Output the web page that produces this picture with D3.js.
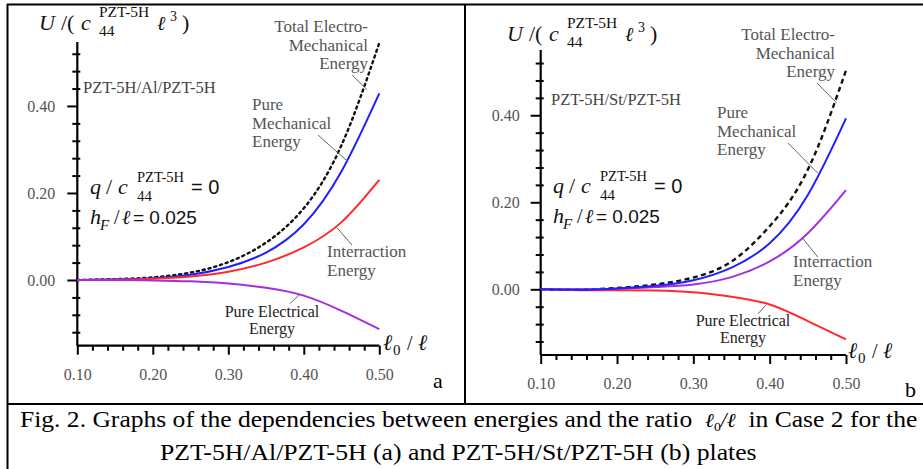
<!DOCTYPE html>
<html>
<head>
<meta charset="utf-8">
<script src="https://cdn.jsdelivr.net/npm/d3@7/dist/d3.min.js"></script>
<style>
  body { margin: 0; background: #fff; }
  svg { display: block; }
</style>
</head>
<body>
<div id="chart"></div>
<script>
const width = 923;
const height = 469;

// l0/l ratio where the curves were read
const ratioValues = [0.10, 0.15, 0.20, 0.25, 0.30, 0.35, 0.40, 0.45, 0.50];
const xTickMajor = [0.10, 0.20, 0.30, 0.40, 0.50];
const xTickMinor = [0.12, 0.14, 0.16, 0.18, 0.22, 0.24, 0.26, 0.28, 0.32, 0.34, 0.36, 0.38, 0.42, 0.44, 0.46, 0.48];
const yTickMajor = [0.00, 0.20, 0.40];
const yTickMinor = [-0.12, -0.08, -0.04, 0.04, 0.08, 0.12, 0.16, 0.24, 0.28, 0.32, 0.36, 0.44, 0.48, 0.52];

// (a) PZT-5H/Al/PZT-5H
const totalA = [0, 0.002, 0.006, 0.017, 0.041, 0.086, 0.165, 0.310, 0.545];
const mechA = [0, 0.001, 0.004, 0.012, 0.030, 0.063, 0.128, 0.250, 0.429];
const interA = [0, 0.001, 0.003, 0.008, 0.019, 0.040, 0.075, 0.133, 0.230];
const elecA = [0, 0, -0.001, -0.003, -0.008, -0.018, -0.036, -0.071, -0.113];

// (b) PZT-5H/St/PZT-5H
const totalB = [0, -0.001, 0.003, 0.011, 0.027, 0.064, 0.145, 0.275, 0.503];
const mechB = [0, -0.001, 0.002, 0.008, 0.021, 0.050, 0.106, 0.217, 0.393];
const interB = [0, 0, 0.001, 0.005, 0.011, 0.028, 0.064, 0.129, 0.228];
const elecB = [0, -0.002, -0.002, -0.003, -0.007, -0.017, -0.035, -0.073, -0.115];

const BLUE = '#1f1fff';
const RED = '#ff2a2a';
const PURPLE = '#a22ee0';
const GREY = '#555';
const SERIF = '"Liberation Serif", "Times New Roman", serif';
const SANS = '"Liberation Sans", Arial, sans-serif';

const svg = d3.select('#chart').append('svg')
    .attr('width', width)
    .attr('height', height);

svg.append('rect').attr('width', width).attr('height', height).attr('fill', '#fff');

// frame of the figure table
const frame = svg.append('g').attr('stroke', '#000').attr('stroke-width', 2);
frame.append('line').attr('x1', 7).attr('x2', width).attr('y1', 4.5).attr('y2', 4.5);
frame.append('line').attr('x1', 7.5).attr('x2', 7.5).attr('y1', 4).attr('y2', height);
frame.append('line').attr('x1', 465).attr('x2', 465).attr('y1', 4).attr('y2', 404);
frame.append('line').attr('x1', 7).attr('x2', width).attr('y1', 404).attr('y2', 404);

drawPanel({
    xRange: [77.3, 379.3],
    yDomain: [-0.151, 0.547],
    yRange: [345.7, 42],
    series: [
        { values: totalA, color: '#111', dash: '2.2,3.8', cap: 'round' },
        { values: mechA, color: BLUE },
        { values: interA, color: RED },
        { values: elecA, color: PURPLE }
    ],
    material: 'PZT-5H/Al/PZT-5H',
    materialPos: [83, 93],
    uPos: [39, 30],
    qPos: [90, 194],
    hPos: [90, 224],
    xLabelPos: [383, 350],
    letter: 'a',
    letterPos: [433, 388],
    labels: [
        { lines: ['Total Electro-', 'Mechanical', 'Energy'], x: 368, y: 32, anchor: 'end', color: GREY },
        { lines: ['Pure', 'Mechanical', 'Energy'], x: 252, y: 110, anchor: 'start', color: GREY },
        { lines: ['Interraction', 'Energy'], x: 327, y: 257, anchor: 'start', color: GREY },
        { lines: ['Pure Electrical', 'Energy'], x: 272, y: 317, anchor: 'middle', color: '#222', lh: 16.5, size: 16 }
    ],
    leaders: [
        [[0.464, 0.471], [0.484, 0.437]],
        [[0.419, 0.333], [0.459, 0.271]],
        [[0.444, 0.120], [0.464, 0.080]],
        [[0.382, -0.054], [0.395, -0.032]]
    ],
    tickPad: 12
});

drawPanel({
    xRange: [540.7, 846],
    yDomain: [-0.151, 0.55],
    yRange: [355, 50],
    series: [
        { values: totalB, color: '#111', dash: '5,3.5' },
        { values: elecB, color: RED },
        { values: interB, color: PURPLE },
        { values: mechB, color: BLUE }
    ],
    material: 'PZT-5H/St/PZT-5H',
    materialPos: [551, 105],
    uPos: [507, 41],
    qPos: [553, 193],
    hPos: [553, 223],
    xLabelPos: [848, 358],
    letter: 'b',
    letterPos: [905, 397],
    labels: [
        { lines: ['Total Electro-', 'Mechanical', 'Energy'], x: 835, y: 40, anchor: 'end', color: GREY },
        { lines: ['Pure', 'Mechanical', 'Energy'], x: 717, y: 118, anchor: 'start', color: GREY },
        { lines: ['Interraction', 'Energy'], x: 793, y: 267, anchor: 'start', color: GREY },
        { lines: ['Pure Electrical', 'Energy'], x: 743, y: 326, anchor: 'middle', color: '#222', lh: 16.5, size: 16 }
    ],
    leaders: [
        [[0.462, 0.474], [0.488, 0.428]],
        [[0.424, 0.336], [0.463, 0.267]],
        [[0.443, 0.118], [0.463, 0.074]],
        [[0.385, -0.056], [0.395, -0.036]]
    ],
    tickPad: 11
});

drawCaption();

function drawPanel(cfg) {
    const x = d3.scaleLinear().domain([0.1, 0.5]).range(cfg.xRange);
    const y = d3.scaleLinear().domain(cfg.yDomain).range(cfg.yRange);
    const g = svg.append('g');
    const x0 = x(0.1);
    const yBottom = y(cfg.yDomain[0]);

    // y axis
    const yMajor = g.append('g')
        .attr('transform', `translate(${x0},0)`)
        .call(d3.axisLeft(y).tickValues(yTickMajor).tickSize(10).tickPadding(cfg.tickPad)
            .tickFormat(d3.format('.2f')));
    const yMinor = g.append('g')
        .attr('transform', `translate(${x0 + 3},0)`)
        .call(d3.axisLeft(y).tickValues(yTickMinor).tickSize(8).tickFormat(''));

    // x axis
    const xMajor = g.append('g')
        .attr('transform', `translate(0,${yBottom})`)
        .call(d3.axisBottom(x).tickValues(xTickMajor).tickSize(9).tickPadding(14)
            .tickFormat(d3.format('.2f')));
    const xMinor = g.append('g')
        .attr('transform', `translate(0,${yBottom})`)
        .call(d3.axisBottom(x).tickValues(xTickMinor).tickSize(5).tickFormat(''));

    [yMajor, yMinor, xMajor, xMinor].forEach(ax => {
        ax.select('.domain').remove();
        ax.selectAll('line').attr('stroke', '#000').attr('stroke-width', 2);
        ax.selectAll('text')
            .attr('fill', GREY)
            .style('font-family', SERIF)
            .style('font-size', '16px');
    });

    g.append('line')
        .attr('x1', x0).attr('x2', x0)
        .attr('y1', y(cfg.yDomain[1])).attr('y2', yBottom)
        .attr('stroke', '#000').attr('stroke-width', 2.2);
    g.append('line')
        .attr('x1', x0).attr('x2', x(0.5))
        .attr('y1', yBottom).attr('y2', yBottom)
        .attr('stroke', '#000').attr('stroke-width', 2.2);

    // curves
    const line = d3.line()
        .x((d, i) => x(ratioValues[i]))
        .y(d => y(d))
        .curve(d3.curveNatural);

    cfg.series.forEach(s => {
        g.append('path')
            .attr('d', line(s.values))
            .attr('fill', 'none')
            .attr('stroke', s.color)
            .attr('stroke-width', s.dash ? 2.4 : 2)
            .attr('stroke-dasharray', s.dash || null)
            .attr('stroke-linecap', s.cap || 'butt');
    });

    // leader lines
    cfg.leaders.forEach(l => {
        g.append('line')
            .attr('x1', x(l[0][0])).attr('y1', y(l[0][1]))
            .attr('x2', x(l[1][0])).attr('y2', y(l[1][1]))
            .attr('stroke', '#666').attr('stroke-width', 1);
    });

    // curve labels
    cfg.labels.forEach(lb => {
        const t = g.append('text')
            .attr('text-anchor', lb.anchor)
            .attr('fill', lb.color)
            .style('font-family', SERIF)
            .style('font-size', (lb.size || 17) + 'px');
        lb.lines.forEach((txt, i) => {
            t.append('tspan').attr('x', lb.x).attr('y', lb.y + i * (lb.lh || 18.5)).text(txt);
        });
    });

    g.append('text')
        .attr('x', cfg.materialPos[0]).attr('y', cfg.materialPos[1])
        .attr('fill', '#444')
        .style('font-family', SERIF).style('font-size', '16.5px')
        .text(cfg.material);

    // U/(c44 l^3)
    pieces(g, cfg.uPos, [
        { t: 'U', dx: 0, dy: 0, size: 22, italic: true },
        { t: '/(', dx: 22, dy: 0, size: 22 },
        { t: 'c', dx: 42, dy: 0, size: 22, italic: true },
        { t: 'PZT-5H', dx: 60, dy: -13, size: 15.5 },
        { t: '44', dx: 60, dy: 6, size: 15.5 },
        { t: 'ℓ', dx: 118, dy: 0, size: 20, italic: true },
        { t: '3', dx: 131, dy: -9, size: 14 },
        { t: ')', dx: 143, dy: 0, size: 22 }
    ]);

    // q / c44 = 0
    pieces(g, cfg.qPos, [
        { t: 'q', dx: 0, dy: 0, size: 22, italic: true },
        { t: '/', dx: 16, dy: 0, size: 22 },
        { t: 'c', dx: 28, dy: 0, size: 22, italic: true },
        { t: 'PZT-5H', dx: 47, dy: -12, size: 14.5 },
        { t: '44', dx: 47, dy: 7, size: 15 },
        { t: '= 0', dx: 101, dy: 0, size: 20, sans: true }
    ]);

    // hF / l = 0.025
    pieces(g, cfg.hPos, [
        { t: 'h', dx: 0, dy: 0, size: 22, italic: true },
        { t: 'F', dx: 10, dy: 6, size: 15, italic: true },
        { t: '/', dx: 24, dy: 0, size: 20 },
        { t: 'ℓ', dx: 32, dy: 0, size: 20, italic: true },
        { t: '= 0.025', dx: 43, dy: 0, size: 19, sans: true }
    ]);

    // l0 / l
    pieces(g, cfg.xLabelPos, [
        { t: 'ℓ', dx: 0, dy: 0, size: 22, italic: true },
        { t: '0', dx: 10, dy: 5, size: 15 },
        { t: '/', dx: 24, dy: 0, size: 20 },
        { t: 'ℓ', dx: 35, dy: 0, size: 22, italic: true }
    ]);

    g.append('text')
        .attr('x', cfg.letterPos[0]).attr('y', cfg.letterPos[1])
        .attr('fill', '#000')
        .style('font-family', SERIF).style('font-size', '22px')
        .text(cfg.letter);
}

function pieces(g, pos, list) {
    list.forEach(p => {
        g.append('text')
            .attr('x', pos[0] + p.dx)
            .attr('y', pos[1] + p.dy)
            .attr('fill', '#111')
            .style('font-family', p.sans ? SANS : SERIF)
            .style('font-style', p.italic ? 'italic' : 'normal')
            .style('font-size', p.size + 'px')
            .text(p.t);
    });
}

// stretch a caption line horizontally so it spans the width seen in the figure
function fitWidth(textSel, left, targetWidth) {
    const len = textSel.node().getComputedTextLength();
    const k = targetWidth / len;
    textSel.attr('transform', `translate(${left},0) scale(${k},1) translate(${-left},0)`);
}

function drawCaption() {
    const cap = svg.append('g')
        .attr('fill', '#000')
        .style('font-family', SERIF)
        .style('font-size', '24px');

    const l1 = cap.append('text').attr('x', 20).attr('y', 427);
    l1.append('tspan').text('Fig. 2. Graphs of the dependencies between energies and the ratio\u00a0\u00a0');
    l1.append('tspan').style('font-style', 'italic').style('font-size', '20px').text('ℓ');
    l1.append('tspan').style('font-size', '13px').attr('dy', 4).text('0');
    l1.append('tspan').style('font-style', 'italic').style('font-size', '20px').attr('dy', -4).text('/');
    l1.append('tspan').style('font-style', 'italic').style('font-size', '20px').text('ℓ');
    l1.append('tspan').text('\u00a0\u00a0in Case 2 for the');
    fitWidth(l1, 20, 898);

    const l2 = cap.append('text')
        .attr('x', 160).attr('y', 460)
        .text('PZT-5H/Al/PZT-5H (a) and PZT-5H/St/PZT-5H (b) plates');
    fitWidth(l2, 160, 597);
}
</script>
</body>
</html>
